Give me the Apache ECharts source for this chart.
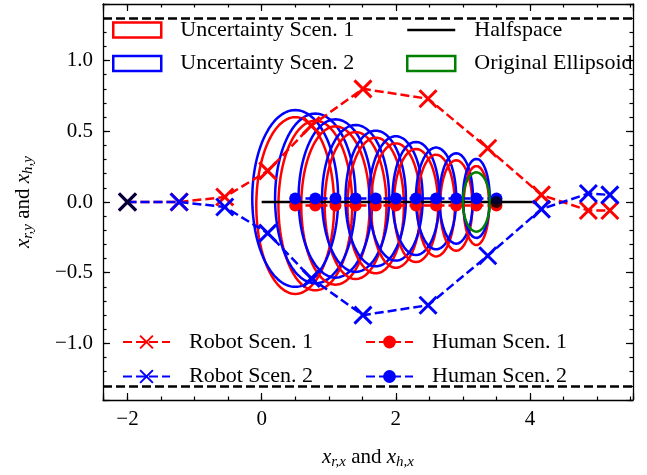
<!DOCTYPE html>
<html>
<head>
<meta charset="utf-8">
<script src="https://cdn.jsdelivr.net/npm/echarts@6/dist/echarts.min.js"></script>
<style>
  html, body { margin: 0; padding: 0; background: #fff; }
  #main { width: 647px; height: 475px; }
</style>
</head>
<body>
<div id="main"></div>
<script>
// axis limits
const XMIN = -2.365, XMAX = 5.535, YMIN = -1.4, YMAX = 1.4;

// robot trajectories
const robotX1 = [-2, -1.23, -0.55, 0.09, 0.74, 1.51, 2.48, 3.37, 4.17, 4.87, 5.19];
const robotY1 = [0, 0, 0.035, 0.22, 0.54, 0.80, 0.73, 0.38, 0.05, -0.06, -0.06];
const robotX2 = [-2, -1.23, -0.55, 0.09, 0.74, 1.51, 2.48, 3.37, 4.17, 4.87, 5.19];
const robotY2 = [0, 0, -0.035, -0.22, -0.54, -0.80, -0.73, -0.38, -0.05, 0.06, 0.05];

// human trajectories
const humanX = [3.5, 3.2, 2.9, 2.6, 2.3, 2.0, 1.7, 1.4, 1.1, 0.8, 0.5];
const humanY1 = [-0.025, -0.025, -0.025, -0.025, -0.025, -0.025, -0.025, -0.025, -0.025, -0.025, -0.025];
const humanY2 = [0.025, 0.025, 0.025, 0.025, 0.025, 0.025, 0.025, 0.025, 0.025, 0.025, 0.025];

// uncertainty ellipses (centre x, half widths, half heights)
const ellX = [0.5, 0.8, 1.1, 1.4, 1.7, 2.0, 2.3, 2.6, 2.9, 3.2];
const ellY1 = -0.025, ellY2 = 0.025;
const ellA1 = [0.58, 0.55, 0.51, 0.46, 0.42, 0.37, 0.33, 0.28, 0.24, 0.19];
const ellB1 = [0.625, 0.60, 0.56, 0.52, 0.48, 0.44, 0.40, 0.36, 0.32, 0.28];
const ellA2 = [0.64, 0.60, 0.55, 0.50, 0.45, 0.40, 0.35, 0.30, 0.25, 0.20];
const ellB2 = [0.625, 0.60, 0.56, 0.52, 0.48, 0.44, 0.40, 0.36, 0.32, 0.28];

// original ellipsoid
const origC = [3.2, 0];
const origR = [0.2, 0.21];

// halfspace, start points, boundaries
const halfX = [0, 4.1];
const halfY = [0, 0];
const robotStart = [-2, 0];
const humanStart = [3.5, 0];
const boundY = [1.3, -1.3];

const RED = '#ff0000', BLUE = '#0000ff', GREEN = '#008000', BLACK = '#000000';
const FONT = 'Liberation Serif';
const LW = 2.5;
const DASH = [9, 4];
const XMARK = 'path://M0,0L10,10M10,0L0,10';
const LINEICON = 'path://M0,0M0,6.2L48,6.2L48,8.8L0,8.8ZM48,15';

function zip(xs, ys) {
  return xs.map((x, i) => [x, ys[i]]);
}

function ellipsePts(cx, cy, a, b) {
  let pts = [];
  for (let i = 0; i <= 120; i++) {
    let t = i / 120 * Math.PI * 2;
    pts.push([cx + a * Math.cos(t), cy + b * Math.sin(t)]);
  }
  return pts;
}

function fmtX(v) {
  if (Math.abs(v - Math.round(v)) > 1e-6) return '';
  return String(Math.round(v)).replace('-', '\u2212');
}
function fmtY(v) {
  if (Math.abs(v * 2 - Math.round(v * 2)) > 1e-6) return '';
  return v.toFixed(1).replace('-', '\u2212');
}

let series = [];

// ellipses
for (let i = 0; i < ellX.length; i++) {
  series.push({
    name: 'Uncertainty Scen. 1', type: 'line', z: 2,
    data: ellipsePts(ellX[i], ellY1, ellA1[i], ellB1[i]),
    showSymbol: false, symbol: 'none', silent: true,
    lineStyle: { color: RED, width: LW }, itemStyle: { color: RED }
  });
  series.push({
    name: 'Uncertainty Scen. 2', type: 'line', z: 2,
    data: ellipsePts(ellX[i], ellY2, ellA2[i], ellB2[i]),
    showSymbol: false, symbol: 'none', silent: true,
    lineStyle: { color: BLUE, width: LW }, itemStyle: { color: BLUE }
  });
}

series.push({
  name: 'Halfspace', type: 'line', z: 3,
  data: zip(halfX, halfY), symbol: 'none',
  lineStyle: { color: BLACK, width: LW }, itemStyle: { color: BLACK },
  markLine: {
    silent: true, symbol: 'none', label: { show: false },
    lineStyle: { color: BLACK, width: LW, type: DASH },
    data: boundY.map(v => ({ yAxis: v }))
  }
});

series.push({
  name: 'Original Ellipsoid', type: 'line', z: 6,
  data: ellipsePts(origC[0], origC[1], origR[0], origR[1]),
  showSymbol: false, symbol: 'none', silent: true,
  lineStyle: { color: GREEN, width: LW }, itemStyle: { color: GREEN }
});

series.push({
  name: 'Robot Scen. 1', type: 'line', z: 4,
  data: zip(robotX1, robotY1),
  symbol: XMARK, symbolSize: 17,
  lineStyle: { color: RED, width: LW, type: DASH },
  itemStyle: { color: RED, borderColor: RED, borderWidth: 3 }
});
series.push({
  name: 'Robot Scen. 2', type: 'line', z: 4,
  data: zip(robotX2, robotY2),
  symbol: XMARK, symbolSize: 17,
  lineStyle: { color: BLUE, width: LW, type: DASH },
  itemStyle: { color: BLUE, borderColor: BLUE, borderWidth: 3 }
});
series.push({
  name: 'Human Scen. 1', type: 'line', z: 5,
  data: zip(humanX, humanY1),
  symbol: 'circle', symbolSize: 12,
  lineStyle: { color: RED, width: LW, type: DASH },
  itemStyle: { color: RED }
});
series.push({
  name: 'Human Scen. 2', type: 'line', z: 5,
  data: zip(humanX, humanY2),
  symbol: 'circle', symbolSize: 12,
  lineStyle: { color: BLUE, width: LW, type: DASH },
  itemStyle: { color: BLUE }
});
series.push({
  name: 'start', type: 'scatter', z: 7,
  data: [robotStart], symbol: XMARK, symbolSize: 17,
  itemStyle: { color: BLACK, borderColor: BLACK, borderWidth: 3 }
});
series.push({
  name: 'humanStart', type: 'scatter', z: 7,
  data: [humanStart], symbol: 'circle', symbolSize: 12,
  itemStyle: { color: BLACK }
});

function axisBase(dim, pos, split, major, labels) {
  return {
    type: 'value', position: pos,
    min: dim === 'x' ? XMIN : YMIN, max: dim === 'x' ? XMAX : YMAX,
    splitNumber: split,
    axisLine: { show: major, onZero: false, lineStyle: { color: BLACK, width: 1.3 } },
    axisTick: { show: true, inside: true, length: major ? 7 : 3.5, lineStyle: { color: BLACK, width: 1.2 } },
    axisLabel: { show: labels },
    splitLine: { show: false }
  };
}

let subRich = {
  i: { fontFamily: FONT, fontStyle: 'italic', fontSize: 21, color: BLACK },
  s: { fontFamily: FONT, fontStyle: 'italic', fontSize: 15, color: BLACK, padding: [10, 0, 0, 0] },
  n: { fontFamily: FONT, fontSize: 21, color: BLACK }
};

let xb = axisBase('x', 'bottom', 4, true, true);
xb.axisLabel = { show: true, formatter: fmtX, margin: 9, color: BLACK, fontFamily: FONT, fontSize: 21 };
xb.name = '{i|x}{s|r,x}{n| and }{i|x}{s|h,x}';
xb.nameLocation = 'middle';
xb.nameGap = 45;
xb.nameTextStyle = { rich: subRich };

let yl = axisBase('y', 'left', 6, true, true);
yl.axisLabel = { show: true, formatter: fmtY, margin: 10, color: BLACK, fontFamily: FONT, fontSize: 21 };
yl.name = '{i|x}{s|r,y}{n| and }{i|x}{s|h,y}';
yl.nameLocation = 'middle';
yl.nameRotate = 90;
yl.nameGap = 67;
yl.nameTextStyle = { rich: subRich };

const legendText = { fontFamily: FONT, fontSize: 22, color: BLACK, padding: [0, 0, 0, 14] };

const option = {
  animation: false,
  backgroundColor: '#ffffff',
  grid: { left: 103, right: 14, top: 4, bottom: 69, containLabel: false },
  xAxis: [
    xb,
    axisBase('x', 'bottom', 16, false, false),
    axisBase('x', 'top', 4, true, false),
    axisBase('x', 'top', 16, false, false)
  ],
  yAxis: [
    yl,
    axisBase('y', 'left', 28, false, false),
    axisBase('y', 'right', 6, true, false),
    axisBase('y', 'right', 28, false, false)
  ],
  legend: [
    {
      orient: 'vertical', left: 112, top: 19, padding: 0, itemWidth: 48, itemHeight: 15, itemGap: 11.5,
      textStyle: legendText,
      data: [
        { name: 'Uncertainty Scen. 1', icon: 'rect', itemStyle: { color: '#ffffff', borderColor: RED, borderWidth: LW } },
        { name: 'Uncertainty Scen. 2', icon: 'rect', itemStyle: { color: '#ffffff', borderColor: BLUE, borderWidth: LW } }
      ]
    },
    {
      orient: 'vertical', left: 406, top: 19, padding: 0, itemWidth: 48, itemHeight: 15, itemGap: 11.5,
      textStyle: legendText,
      data: [
        { name: 'Halfspace', icon: LINEICON, itemStyle: { color: BLACK, borderWidth: 0 } },
        { name: 'Original Ellipsoid', icon: 'rect', itemStyle: { color: '#ffffff', borderColor: GREEN, borderWidth: LW } }
      ]
    },
    {
      orient: 'vertical', left: 122, top: 331, padding: 0, itemWidth: 47, itemHeight: 16, itemGap: 12.5,
      textStyle: legendText,
      data: ['Robot Scen. 1', 'Robot Scen. 2']
    },
    {
      orient: 'vertical', left: 365, top: 331, padding: 0, itemWidth: 47, itemHeight: 16, itemGap: 12.5,
      textStyle: legendText,
      data: ['Human Scen. 1', 'Human Scen. 2']
    }
  ],
  series: series
};

const chart = echarts.init(document.getElementById('main'), null, { renderer: 'canvas' });
chart.setOption(option);
</script>
</body>
</html>
